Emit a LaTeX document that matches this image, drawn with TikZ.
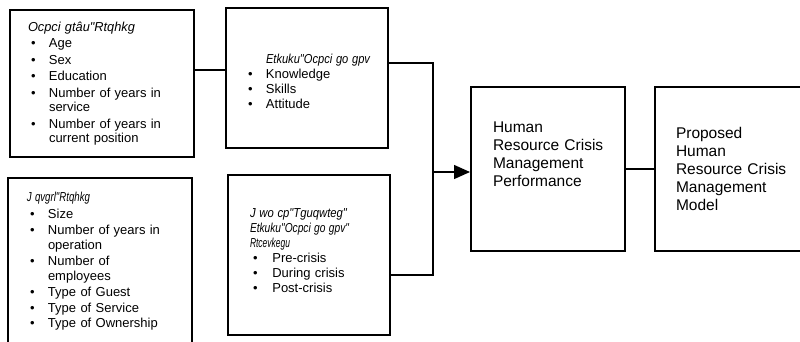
\documentclass[tikz,border=0pt]{standalone}
\usepackage{fontspec}
\usepackage{graphicx}
\setmainfont{Liberation Sans}
\newfontfamily\garbfont{Liberation Sans}
\usetikzlibrary{positioning,arrows.meta}
\newcommand{\blt}[1][21pt]{\makebox[#1][l]{\hspace{3pt}\textbullet}}
\newcommand{\gtxt}[2]{\resizebox{#1}{\height}{\garbfont\itshape #2}}

\begin{document}
\begin{tikzpicture}[x=1pt, y=-1pt]
  % Styles for the boxes and the lines between them
  \tikzset{
    box/.style={rectangle, draw, line width=2pt, align=left, font=\fontsize{13}{14.5}\selectfont},
    bigbox/.style={box, font=\fontsize{15.5}{18}\selectfont},
    link/.style={line width=1.4pt},
    arrowlink/.style={link, -{Triangle[length=16pt, width=14pt]}}
  }
  \useasboundingbox (0,0) rectangle (800,341);
  \clip (0,0) rectangle (800,341);

  % Input boxes
  \node[box, minimum width=184pt, minimum height=147pt, inner xsep=18pt, text width=148pt] (manager) at (102,83.5)
    {\gtxt{107pt}{Ocpci gtâu"Rtqhkg}\\[2pt]
     \blt Age\\[2pt]
     \blt Sex\\[2pt]
     \blt Education\\[2pt]
     \blt Number of years in\\
     \hspace*{21pt}service\\[2pt]
     \blt Number of years in\\
     \hspace*{21pt}current position};
  \node[box, minimum width=162pt, minimum height=140pt, inner xsep=19pt, text width=124pt] (skill) at (307,78)
    {\rule{0pt}{15.5pt}\hspace*{21pt}\gtxt{104pt}{Etkuku"Ocpci go gpv}\\[0.5pt]
     \blt Knowledge\\[0.5pt]
     \blt Skills\\[0.5pt]
     \blt Attitude};
  \node[box, minimum width=184pt, minimum height=167pt, inner xsep=19pt, text width=146pt] (hotel) at (100,261.5)
    {\gtxt{63pt}{J qvgrl"Rtqhkg}\\[2pt]
     \blt Size\\[2pt]
     \blt Number of years in\\
     \hspace*{21pt}operation\\[2pt]
     \blt Number of\\
     \hspace*{21pt}employees\\[2pt]
     \blt Type of Guest\\[1pt]
     \blt Type of Service\\[1pt]
     \blt Type of Ownership};
  \node[box, minimum width=162pt, minimum height=160pt, inner xsep=22pt, text width=118pt] (practice) at (309,255)
    {\gtxt{97pt}{J wo cp"Tguqwteg"}\\[0.5pt]
     \gtxt{99pt}{Etkuku"Ocpci go gpv"}\\[0.5pt]
     \gtxt{40pt}{Rtcevkegu}\\[0.5pt]
     \blt[18pt] Pre-crisis\\[0.5pt]
     \blt[18pt] During crisis\\[0.5pt]
     \blt[18pt] Post-crisis\\[-5pt]\mbox{}};

  % Output boxes
  \node[bigbox, minimum width=154pt, minimum height=164pt, inner xsep=22pt, text width=110pt] (perf) at (548,169)
    {Human\\
     \mbox{Resource Crisis}\\
     Management\\
     Performance\\[12pt]\mbox{}};
  \node[bigbox, minimum width=150pt, minimum height=164pt, inner xsep=21pt, text width=108pt] (model) at (730,169)
    {Proposed\\
     Human\\
     \mbox{Resource Crisis}\\
     Management\\
     Model};

  % Connectors
  \coordinate (j1) at (210,70);
  \coordinate (top) at (433,63);
  \coordinate (bot) at (433,275);
  \coordinate (bus) at (433,172);
  \draw[link] (j1 -| manager.east) -- (j1 -| skill.west);
  \draw[link] (top -| skill.east) -- (top) -- (bot) -- (bot -| practice.east);
  \draw[arrowlink] (bus) -- (bus -| perf.west);
  \draw[link] (perf.east) -- (model.west);
\end{tikzpicture}
\end{document}
